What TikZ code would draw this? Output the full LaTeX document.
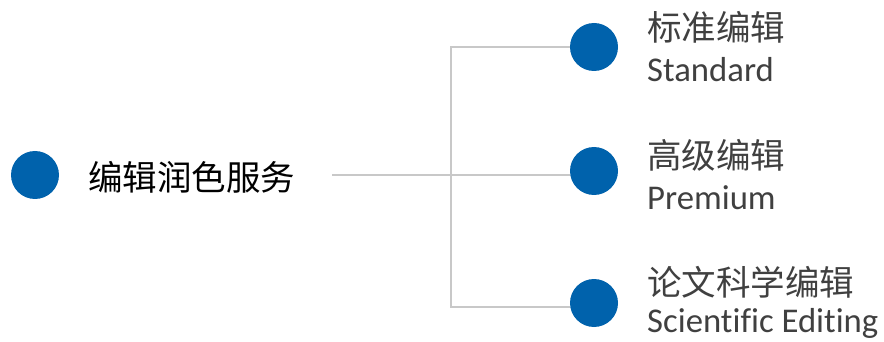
\documentclass[tikz,border=0pt]{standalone}
\usepackage{fontspec}
\setmainfont{Carlito}[Ligatures=NoCommon]
\newfontfamily\cjk{Noto Sans CJK SC}
\definecolor{dotblue}{RGB}{0,98,172}
\definecolor{linegray}{RGB}{200,200,200}
\definecolor{txtgray}{RGB}{64,64,64}
\begin{document}
\begin{tikzpicture}[x=1pt,y=-1pt,
  dot/.style={circle,fill=dotblue,minimum size=48pt,inner sep=0pt},
  conn/.style={draw=linegray,line width=2pt},
  cjklabel/.style={anchor=base west,inner sep=0pt,font=\cjk\fontsize{34.5}{40}\selectfont},
  enlabel/.style={anchor=base west,inner sep=0pt,text=txtgray,font=\fontsize{34.7}{40}\selectfont}]
\useasboundingbox (0,0) rectangle (884,342);
\node[dot] (d0) at (35,175) {};
\node[cjklabel,text=black] (t0) at (88,190) {编辑润色服务};
\node[dot] (d1) at (594,47) {};
\node[dot] (d2) at (594,171) {};
\node[dot] (d3) at (594,303) {};
\node[cjklabel,text=txtgray] (c1) at (647,41) {标准编辑};
\node[enlabel] (e1) at (647,82) {Standard};
\node[cjklabel,text=txtgray] (c2) at (647,169) {高级编辑};
\node[enlabel] (e2) at (647,209) {Premium};
\node[cjklabel,text=txtgray] (c3) at (647,295) {论文科学编辑};
\node[enlabel] (e3) at (647,332) {Scientific Editing};
\coordinate (s) at (332,175);
\coordinate (j) at (451,175);
\draw[conn] (s) -- (j);
\draw[conn] (j) |- (d1.west);
\draw[conn] (j) -- (d2.west |- j);
\draw[conn] (j) |- (d3.west |- 0,307);
\end{tikzpicture}
\end{document}
